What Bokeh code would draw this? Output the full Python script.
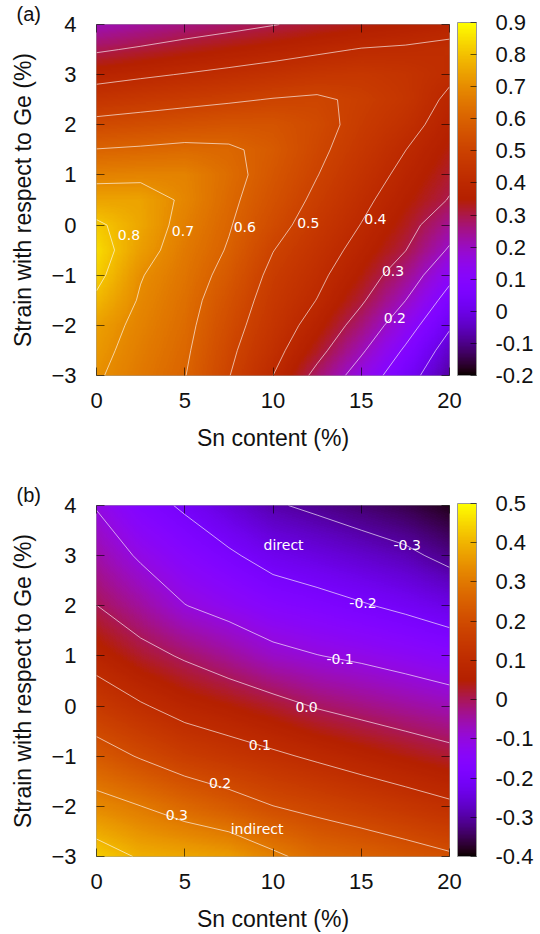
import numpy as np
from bokeh.plotting import figure
from bokeh.models import (LinearColorMapper, ColorBar, FixedTicker, LinearAxis,
                          PrintfTickFormatter, ColumnDataSource, Range1d)
from bokeh.layouts import column
from bokeh.embed import file_html
from bokeh.resources import INLINE
from bokeh.core.properties import value

# ---------------- data ----------------
sn_content = [0, 2.5, 5, 7.5, 10, 12.5, 15, 17.5, 20]

# panel (a): rows are strain values, columns are Sn content
strain_a = [-3, -2.5, -2, -1.5, -1, -0.5, 0, 0.5, 1, 1.5, 2, 2.5, 3, 3.5, 4]
values_a = [
    [0.710, 0.655, 0.603, 0.503, 0.400, 0.276, 0.157, 0.041, -0.080],
    [0.725, 0.666, 0.613, 0.517, 0.428, 0.327, 0.212, 0.088, -0.040],
    [0.740, 0.678, 0.623, 0.533, 0.448, 0.366, 0.264, 0.142, 0.011],
    [0.785, 0.691, 0.633, 0.550, 0.463, 0.398, 0.311, 0.201, 0.065],
    [0.825, 0.705, 0.645, 0.572, 0.479, 0.419, 0.345, 0.253, 0.124],
    [0.845, 0.735, 0.657, 0.593, 0.502, 0.439, 0.374, 0.302, 0.190],
    [0.815, 0.752, 0.671, 0.606, 0.530, 0.461, 0.398, 0.331, 0.241],
    [0.746, 0.745, 0.686, 0.617, 0.550, 0.483, 0.419, 0.356, 0.296],
    [0.675, 0.680, 0.678, 0.627, 0.565, 0.502, 0.440, 0.379, 0.318],
    [0.603, 0.611, 0.621, 0.612, 0.577, 0.517, 0.459, 0.401, 0.340],
    [0.525, 0.537, 0.549, 0.560, 0.558, 0.527, 0.475, 0.430, 0.362],
    [0.448, 0.463, 0.477, 0.490, 0.504, 0.512, 0.486, 0.452, 0.384],
    [0.370, 0.388, 0.404, 0.420, 0.436, 0.453, 0.460, 0.445, 0.415],
    [0.290, 0.310, 0.331, 0.349, 0.367, 0.386, 0.404, 0.410, 0.420],
    [0.210, 0.234, 0.257, 0.277, 0.297, 0.318, 0.335, 0.354, 0.372],
]
levels_a = [-0.1, 0.0, 0.1, 0.2, 0.3, 0.4, 0.5, 0.6, 0.7, 0.8]
labels_a_text = ["0.8", "0.7", "0.6", "0.5", "0.4", "0.3", "0.2"]
labels_a_x = [1.84, 4.9, 8.4, 12.0, 15.8, 16.8, 16.9]
labels_a_y = [-0.20, -0.12, -0.03, 0.05, 0.13, -0.92, -1.85]
cb_ticks_a = [-0.2, -0.1, 0.0, 0.1, 0.2, 0.3, 0.4, 0.5, 0.6, 0.7, 0.8, 0.9]

# panel (b)
strain_b = [-3, -2, -1, 0, 1, 2, 3, 4]
values_b = [
    [0.437, 0.392, 0.380, 0.364, 0.315, 0.272, 0.255, 0.233, 0.210],
    [0.331, 0.301, 0.265, 0.234, 0.201, 0.180, 0.158, 0.136, 0.113],
    [0.234, 0.194, 0.157, 0.134, 0.112, 0.089, 0.066, 0.044, 0.023],
    [0.147, 0.107, 0.072, 0.050, 0.025, -0.005, -0.025, -0.044, -0.063],
    [0.070, 0.025, -0.008, -0.041, -0.078, -0.098, -0.113, -0.131, -0.151],
    [0.001, -0.045, -0.098, -0.127, -0.157, -0.174, -0.194, -0.214, -0.238],
    [-0.052, -0.110, -0.154, -0.190, -0.226, -0.245, -0.265, -0.285, -0.319],
    [-0.105, -0.170, -0.210, -0.253, -0.293, -0.313, -0.334, -0.355, -0.385],
]
levels_b = [-0.3, -0.2, -0.1, 0.0, 0.1, 0.2, 0.3, 0.4]
labels_b_text = ["-0.3", "-0.2", "-0.1", "0.0", "0.1", "0.2", "0.3", "direct", "indirect"]
labels_b_x = [17.6, 15.1, 13.8, 11.9, 9.25, 7.0, 4.55, 10.6, 9.1]
labels_b_y = [3.21, 2.06, 0.94, -0.01, -0.78, -1.53, -2.17, 3.21, -2.46]
cb_ticks_b = [-0.4, -0.3, -0.2, -0.1, 0.0, 0.1, 0.2, 0.3, 0.4, 0.5]

x_ticks = [0, 5, 10, 15, 20]
y_ticks = [-3, -2, -1, 0, 1, 2, 3, 4]

# ---------------- style ----------------
def gnuplot_palette(n=256):
    cols = []
    for i in range(n):
        t = i / (n - 1)
        r = np.sqrt(t)
        g = t ** 3
        b = max(0.0, np.sin(2 * np.pi * t))
        cols.append("#%02x%02x%02x" % (int(round(r * 255)), int(round(g * 255)), int(round(b * 255))))
    return cols

PALETTE = gnuplot_palette()
FONT = "Liberation Sans"
FRAME = 353
WIDTH = 540
LEFT = 96


def smooth_display(xs, ys, z, nx=300, ny=300):
    # bilinear rendering of the value table for a smooth image (display only)
    fx = np.linspace(xs[0], xs[-1], nx)
    fy = np.linspace(ys[0], ys[-1], ny)
    tmp = np.array([np.interp(fx, xs, row) for row in z])
    out = np.array([np.interp(fy, ys, tmp[:, j]) for j in range(nx)]).T
    return fx, fy, out


def make_panel(tag, strain, vals, levels, ltext, lx, ly, cb_ticks, low, high,
               height, bottom_border):
    z = np.array(vals, dtype=float)
    xs = np.array(sn_content, dtype=float)
    ys = np.array(strain, dtype=float)
    p = figure(width=WIDTH, height=height, title=tag,
               x_range=Range1d(0, 20), y_range=Range1d(-3, 4),
               output_backend="svg", toolbar_location=None,
               min_border_left=LEFT, min_border_top=22,
               min_border_bottom=bottom_border, min_border_right=WIDTH - LEFT - FRAME,
               background_fill_color="white", border_fill_color="white")
    p.title.align = "left"
    p.title.offset = -80
    p.title.standoff = 0
    p.title.text_font = FONT
    p.title.text_font_size = "20px"
    p.title.text_font_style = "normal"
    p.title.text_color = "#111111"

    mapper = LinearColorMapper(palette=PALETTE, low=low, high=high)
    fx, fy, img = smooth_display(xs, ys, z)
    ddx = fx[1] - fx[0]
    ddy = fy[1] - fy[0]
    p.image(image=[img], x=fx[0] - ddx / 2, y=fy[0] - ddy / 2,
            dw=(fx[-1] - fx[0]) + ddx, dh=(fy[-1] - fy[0]) + ddy,
            color_mapper=mapper)
    p.contour(xs, ys, z, levels, line_color="white", line_alpha=0.7, line_width=0.9)
    src = ColumnDataSource(dict(x=lx, y=ly, text=ltext))
    p.text(x="x", y="y", text="text", source=src, text_color="white",
           text_font=value("DejaVu Sans"), text_font_size="14px",
           text_align="center", text_baseline="middle")

    p.grid.visible = False
    p.outline_line_color = "#a0a0a0"
    p.outline_line_width = 1

    for ax in (p.xaxis[0], p.yaxis[0]):
        ax.axis_line_color = None
        ax.major_tick_in = 8
        ax.major_tick_out = 0
        ax.major_tick_line_color = "black"
        ax.major_tick_line_alpha = 0.6
        ax.minor_tick_line_color = None
        ax.major_label_text_font = FONT
        ax.major_label_text_font_size = "22px"
        ax.major_label_text_color = "#111111"
        ax.axis_label_text_font = FONT
        ax.axis_label_text_font_size = "23px"
        ax.axis_label_text_font_style = "normal"
        ax.axis_label_text_color = "#111111"
    p.xaxis.ticker = FixedTicker(ticks=x_ticks)
    p.yaxis.ticker = FixedTicker(ticks=y_ticks)
    p.xaxis.axis_label = "Sn content (%)"
    p.yaxis.axis_label = "Strain with respect to Ge (%)"
    p.xaxis.major_label_standoff = 17
    p.xaxis.axis_label_standoff = 14
    p.yaxis.major_label_standoff = 20
    p.yaxis.axis_label_standoff = 12

    for loc, tk in (("above", x_ticks), ("right", y_ticks)):
        ax = LinearAxis(ticker=FixedTicker(ticks=tk), axis_line_color=None,
                        major_tick_in=8, major_tick_out=0,
                        major_tick_line_color="black", major_tick_line_alpha=0.6,
                        minor_tick_line_color=None, major_label_text_font_size="1px",
                        major_label_text_color=None, major_label_standoff=0)
        p.add_layout(ax, loc)

    cb = ColorBar(color_mapper=mapper, ticker=FixedTicker(ticks=cb_ticks),
                  formatter=PrintfTickFormatter(format="%g"),
                  location=(FRAME + 8, 0),
                  width=19, height=FRAME, padding=0, margin=0, label_standoff=19,
                  major_label_text_font=FONT, major_label_text_font_size="22px",
                  major_label_text_color="#111111",
                  major_tick_in=6, major_tick_out=0, major_tick_line_color="black",
                  major_tick_line_alpha=0.6, minor_tick_line_color=None,
                  bar_line_color="#999999", border_line_color=None,
                  background_fill_color=None)
    p.add_layout(cb, "center")
    return p


pa = make_panel("(a)", strain_a, values_a, levels_a, labels_a_text, labels_a_x, labels_a_y,
                cb_ticks_a, -0.2, 0.9, 481, 106)
pb = make_panel("(b)", strain_b, values_b, levels_b, labels_b_text, labels_b_x, labels_b_y,
                cb_ticks_b, -0.4, 0.5, 453, 78)

layout = column(pa, pb, spacing=0)
open("out.html", "w").write(file_html(layout, INLINE))
